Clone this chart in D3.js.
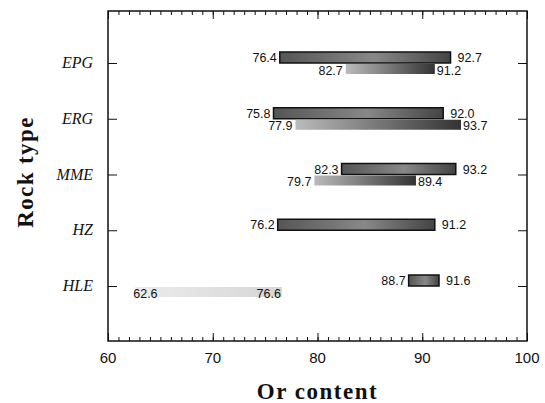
<!DOCTYPE html>
<html>
<head>
<meta charset="utf-8">
<script src="https://cdn.jsdelivr.net/npm/d3@7"></script>
<style>
  body { margin: 0; background: #fff; }
  text { fill: #111; }
</style>
</head>
<body>
<div id="container"></div>
<script>
/* DATA */
const rockTypes = ["EPG", "ERG", "MME", "HZ", "HLE"]
// upper bar of each rock type (min, max)
const upperMin = [76.4, 75.8, 82.3, 76.2, 88.7]
const upperMax = [92.7, 92.0, 93.2, 91.2, 91.6]
// lower bar (HZ has none)
const lowerMin = [82.7, 77.9, 79.7, null, 62.6]
const lowerMax = [91.2, 93.7, 89.4, null, 76.6]
const xTicks = [60, 70, 80, 90, 100]

const width = 545, height = 403
const margin = { top: 11, right: 18, bottom: 62, left: 108 }
const barH = 11

const upper = rockTypes.map((r, i) => ({ r, lo: upperMin[i], hi: upperMax[i] }))
const lower = rockTypes.map((r, i) => ({ r, lo: lowerMin[i], hi: lowerMax[i] }))
  .filter(d => d.lo != null)

/* SCALES */
const xScale = d3.scaleLinear()
  .domain([60, 100])
  .range([margin.left, width - margin.right])

const yScale = d3.scalePoint()
  .domain(rockTypes)
  .range([63, 286])

const svg = d3.select("#container")
  .append("svg")
  .attr("width", width)
  .attr("height", height)

// gradients for the grainy bar fills
const defs = svg.append("defs")
const g1 = defs.append("linearGradient").attr("id", "gUp")
g1.append("stop").attr("offset", "0%").attr("stop-color", "#555")
g1.append("stop").attr("offset", "55%").attr("stop-color", "#888")
g1.append("stop").attr("offset", "100%").attr("stop-color", "#444")
const g2 = defs.append("linearGradient").attr("id", "gLow")
g2.append("stop").attr("offset", "0%").attr("stop-color", "#bbb")
g2.append("stop").attr("offset", "100%").attr("stop-color", "#333")
const g3 = defs.append("linearGradient").attr("id", "gPale")
g3.append("stop").attr("offset", "0%").attr("stop-color", "#ececec")
g3.append("stop").attr("offset", "100%").attr("stop-color", "#d6d6d6")

const x0 = margin.left, x1 = width - margin.right
const y0 = margin.top, y1 = height - margin.bottom

/* AXES */
// bottom and top, ticks pointing inwards, minor every 1
const minor = d3.range(60, 101)
svg.append("g")
  .attr("transform", `translate(0,${y1})`)
  .call(d3.axisTop(xScale).tickValues(minor).tickSize(4).tickFormat(""))
svg.append("g")
  .attr("transform", `translate(0,${y1})`)
  .call(d3.axisTop(xScale).tickValues(xTicks).tickSize(8).tickFormat(""))
svg.append("g")
  .attr("transform", `translate(0,${y0})`)
  .call(d3.axisBottom(xScale).tickValues(minor).tickSize(4).tickFormat(""))
svg.append("g")
  .attr("transform", `translate(0,${y0})`)
  .call(d3.axisBottom(xScale).tickValues(xTicks).tickSize(8).tickFormat(""))

svg.selectAll(".xlab")
  .data(xTicks)
  .join("text")
  .attr("class", "xlab")
  .attr("x", d => xScale(d))
  .attr("y", y1 + 22)
  .attr("text-anchor", "middle")
  .style("font", "15px 'Liberation Sans', Arial, sans-serif")
  .text(d => d)

// left and right axes
svg.append("g")
  .attr("transform", `translate(${x0},0)`)
  .call(d3.axisRight(yScale).tickSize(9).tickFormat(""))
svg.append("g")
  .attr("transform", `translate(${x1},0)`)
  .call(d3.axisLeft(yScale).tickSize(9).tickFormat(""))

svg.selectAll(".domain").remove()
svg.selectAll(".tick line").attr("stroke", "#111")

svg.selectAll(".ylab")
  .data(rockTypes)
  .join("text")
  .attr("class", "ylab")
  .attr("x", 93)
  .attr("y", d => yScale(d) + 5)
  .attr("text-anchor", "end")
  .style("font", "italic 16px 'Liberation Serif', 'Times New Roman', serif")
  .text(d => d)

// frame
svg.append("rect")
  .attr("x", x0).attr("y", y0)
  .attr("width", x1 - x0).attr("height", y1 - y0)
  .attr("fill", "none")
  .attr("stroke", "#111")
  .attr("stroke-width", 1.5)

/* BARS */
const numFont = "12.5px 'Liberation Sans', Arial, sans-serif"

svg.selectAll(".barUp")
  .data(upper)
  .join("rect")
  .attr("class", "barUp")
  .attr("x", d => xScale(d.lo))
  .attr("y", d => yScale(d.r) - barH)
  .attr("width", d => xScale(d.hi) - xScale(d.lo))
  .attr("height", barH)
  .attr("fill", "url(#gUp)")
  .attr("stroke", "#111")
  .attr("stroke-width", 1.5)

svg.selectAll(".barLow")
  .data(lower)
  .join("rect")
  .attr("class", "barLow")
  .attr("x", d => xScale(d.lo))
  .attr("y", d => yScale(d.r) + 1)
  .attr("width", d => xScale(d.hi) - xScale(d.lo))
  .attr("height", barH - 1)
  .attr("fill", d => d.r === "HLE" ? "url(#gPale)" : "url(#gLow)")

// value labels
svg.selectAll(".upLo")
  .data(upper)
  .join("text")
  .attr("class", "upLo")
  .attr("x", d => xScale(d.lo) - 3)
  .attr("y", d => yScale(d.r) - 1)
  .attr("text-anchor", "end")
  .style("font", numFont)
  .text(d => d.lo.toFixed(1))
svg.selectAll(".upHi")
  .data(upper)
  .join("text")
  .attr("class", "upHi")
  .attr("x", d => xScale(d.hi) + 7)
  .attr("y", d => yScale(d.r) - 1)
  .style("font", numFont)
  .text(d => d.hi.toFixed(1))

// HLE lower labels sit on top of the bar ends
svg.selectAll(".lowLo")
  .data(lower)
  .join("text")
  .attr("class", "lowLo")
  .attr("x", d => d.r === "HLE" ? xScale(d.lo) - 2 : xScale(d.lo) - 3)
  .attr("y", d => yScale(d.r) + 11.5)
  .attr("text-anchor", d => d.r === "HLE" ? "start" : "end")
  .style("font", numFont)
  .text(d => d.lo.toFixed(1))
svg.selectAll(".lowHi")
  .data(lower)
  .join("text")
  .attr("class", "lowHi")
  .attr("x", d => d.r === "HLE" ? xScale(d.hi) - 1 : xScale(d.hi) + 2)
  .attr("y", d => yScale(d.r) + 11.5)
  .attr("text-anchor", d => d.r === "HLE" ? "end" : "start")
  .style("font", numFont)
  .text(d => d.hi.toFixed(1))

/* AXIS TITLES */
svg.append("text")
  .attr("x", (x0 + x1) / 2)
  .attr("y", 399)
  .attr("text-anchor", "middle")
  .style("font", "bold 23px 'Liberation Serif', 'Times New Roman', serif")
  .style("letter-spacing", "1.5px")
  .text("Or content")

svg.append("text")
  .attr("transform", `translate(33,172) rotate(-90)`)
  .attr("text-anchor", "middle")
  .style("font", "bold 23px 'Liberation Serif', 'Times New Roman', serif")
  .style("letter-spacing", "1.4px")
  .text("Rock type")
</script>
</body>
</html>
